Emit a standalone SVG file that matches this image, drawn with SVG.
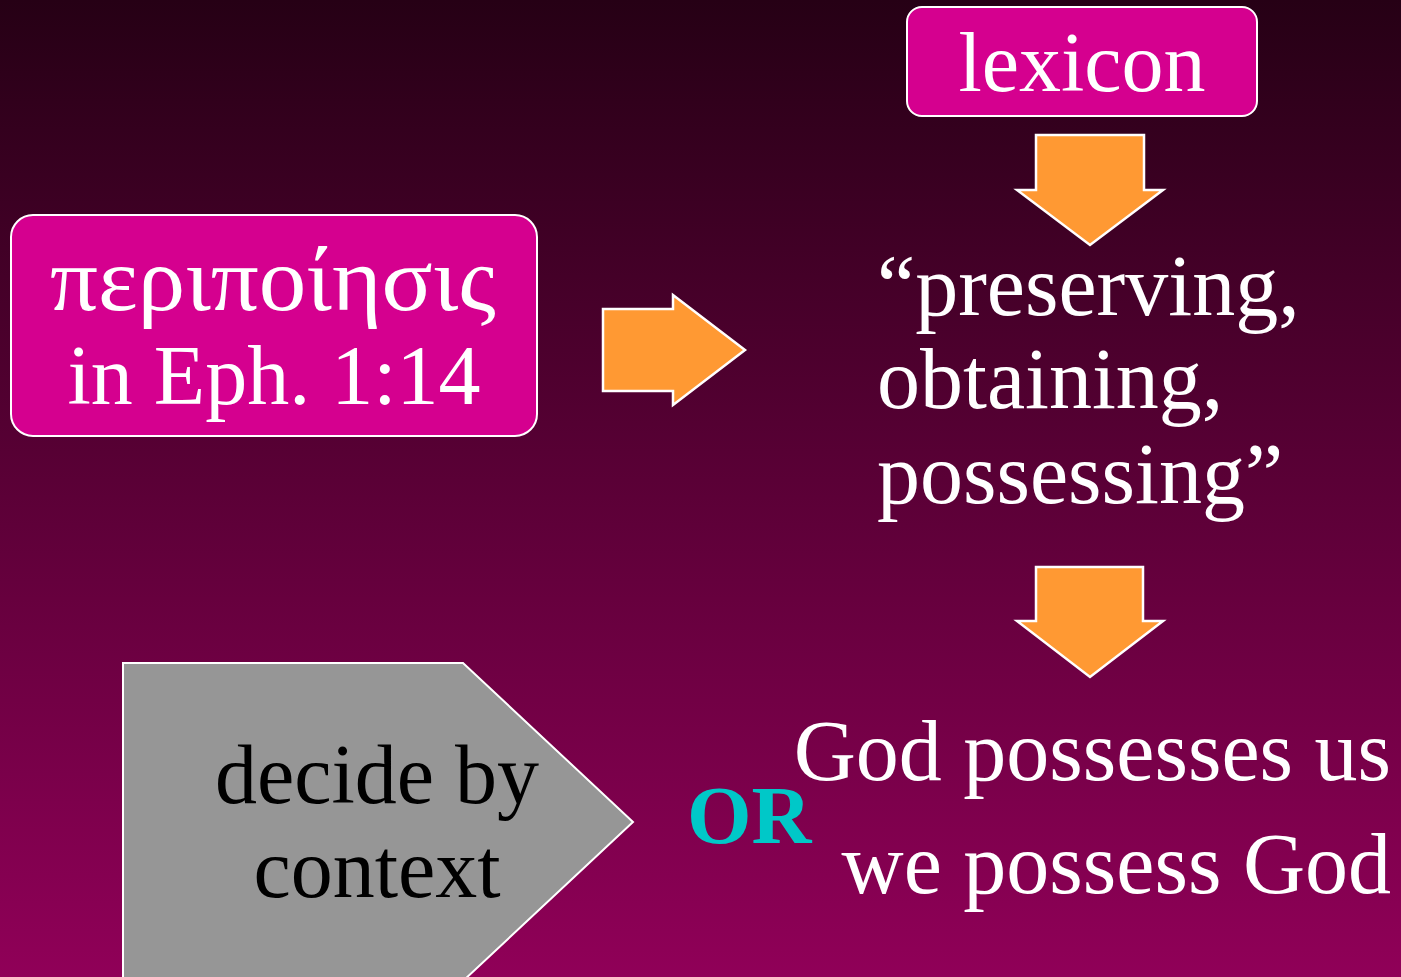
<svg xmlns="http://www.w3.org/2000/svg" width="1401" height="977" viewBox="0 0 1401 977">
<defs>
<linearGradient id="bg" x1="0" y1="0" x2="0" y2="1">
<stop offset="0" stop-color="#260015"/>
<stop offset="1" stop-color="#900058"/>
</linearGradient>
</defs>
<style>
.box{fill:#D5008F;stroke:#ffffff;stroke-width:2}
.arrow{fill:#FF9933;stroke:#ffffff;stroke-width:2.5}
.t{font-family:"Liberation Serif","Times New Roman",serif;font-size:84px;fill:#ffffff}
.big{font-size:86px}
.blk{fill:#000000}
</style>
<rect x="0" y="0" width="1401" height="977" fill="url(#bg)"/>
<g id="greek">
<rect class="box" x="11" y="215" width="526" height="221" rx="22"/>
<text class="t" x="50" y="310" font-size="90" textLength="446" lengthAdjust="spacingAndGlyphs" style="font-size:90px">περιποίησις</text>
<text class="t" x="274" y="404" text-anchor="middle">in Eph. 1:14</text>
</g>
<g id="lexicon">
<rect class="box" x="907" y="7" width="350" height="109" rx="15"/>
<text class="t" x="1082" y="91" text-anchor="middle">lexicon</text>
</g>
<g id="meanings">
<text class="t big" x="877" y="315">“preserving,</text>
<text class="t big" x="877" y="408">obtaining,</text>
<text class="t big" x="877" y="503">possessing”</text>
</g>
<g id="decide">
<polygon points="123,663 463,663 633,822 463,981 123,981" fill="#969696" stroke="#ffffff" stroke-width="2"/>
<text class="t blk" x="377" y="803" text-anchor="middle">decide by</text>
<text class="t blk" x="377" y="897" text-anchor="middle">context</text>
</g>
<g id="or">
<text x="687" y="843" font-family="Liberation Serif,'Times New Roman',serif" font-size="83" font-weight="bold" fill="#00C8C8">OR</text>
</g>
<g id="outcomes">
<text class="t big" x="1391" y="780" text-anchor="end">God possesses us</text>
<text class="t big" x="1391" y="893" text-anchor="end">we possess God</text>
</g>
<g id="connectors">
<polygon class="arrow" points="603,309 673,309 673,295 745,350 673,405 673,391 603,391"/>
<polygon class="arrow" points="1036,135 1144,135 1144,190 1163,190 1090,245 1017,190 1036,190"/>
<polygon class="arrow" points="1036,567 1143,567 1143,621 1163,621 1090,677 1017,621 1036,621"/>
</g>
</svg>
